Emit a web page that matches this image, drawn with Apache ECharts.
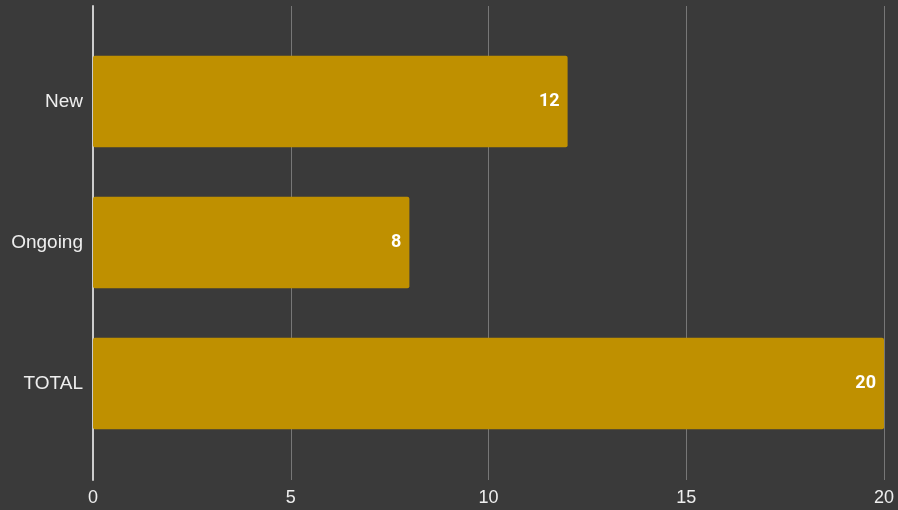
<!DOCTYPE html>
<html><head><meta charset="utf-8">
<script src="https://cdn.jsdelivr.net/npm/echarts@6/dist/echarts.min.js"></script>
<style>html,body{margin:0;padding:0;background:#3a3a3a}#c{width:898px;height:510px}</style>
</head><body><div id="c"></div>
<script>
const categories = ['New', 'Ongoing', 'TOTAL'];
const values = [12, 8, 20];
const xTicks = [0, 5, 10, 15, 20];

const chart = echarts.init(document.getElementById('c'));
chart.setOption({
  backgroundColor: '#3a3a3a',
  animation: false,
  grid: [
    {left: 93, right: 14, top: 6, bottom: 30},
    {left: 93, right: 14, top: 31, bottom: 56}
  ],
  xAxis: [
    {gridIndex: 0, type: 'value', min: xTicks[0], max: xTicks[xTicks.length-1], interval: 5,
     axisLine: {show: false}, axisTick: {show: false},
     axisLabel: {color: '#eeeeee', fontSize: 18, fontFamily: 'Liberation Sans', margin: 9,
       formatter: v => xTicks.includes(v) ? String(v) : ''},
     splitLine: {show: true, lineStyle: {color: '#777777', width: 1}}},
    {gridIndex: 1, type: 'value', min: 0, max: 20, show: false, splitLine: {show: false}}
  ],
  yAxis: [
    {gridIndex: 0, type: 'value', min: 0, max: 1, show: true,
     axisLine: {show: true, lineStyle: {color: '#cccccc', width: 2}},
     axisTick: {show: false}, axisLabel: {show: false}, splitLine: {show: false}},
    {gridIndex: 1, type: 'category', data: categories, inverse: true,
     axisLine: {show: false}, axisTick: {show: false},
     axisLabel: {color: '#eeeeee', fontSize: 19, fontFamily: 'Liberation Sans', margin: 10}}
  ],
  series: [{
    type: 'bar', xAxisIndex: 1, yAxisIndex: 1, data: values,
    barWidth: '65%',
    itemStyle: {color: '#bf9000', borderRadius: 2},
    label: {show: true, position: 'insideRight', color: '#ffffff', fontWeight: 'bold',
      fontSize: 18, fontFamily: 'Roboto', distance: 8}
  }]
});
</script></body></html>
